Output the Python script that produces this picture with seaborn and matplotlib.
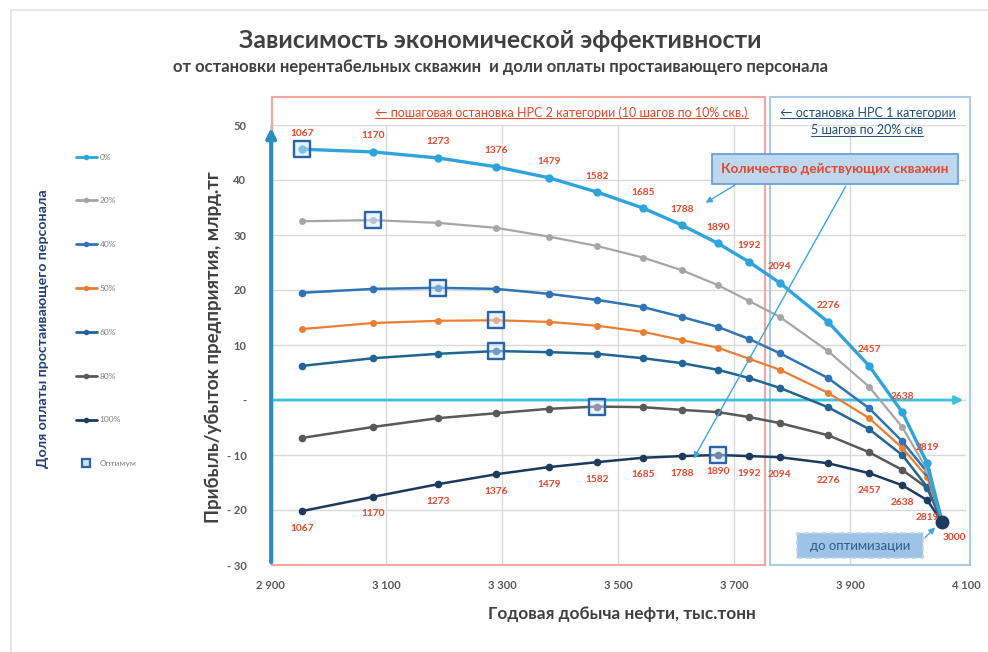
import matplotlib
matplotlib.use('Agg')
import matplotlib.pyplot as plt
import seaborn as sns
import numpy as np
import pandas as pd
from matplotlib.patches import Rectangle
from matplotlib.lines import Line2D

sns.set_theme(style='white')
plt.rcParams['font.family'] = ['Lato', 'DejaVu Sans']

# ---------------- data ----------------
production = [2955, 3078, 3190, 3290, 3381, 3464, 3543, 3610, 3672, 3726, 3779, 3862, 3933, 3990, 4033, 4059]
wells = [1067, 1170, 1273, 1376, 1479, 1582, 1685, 1788, 1890, 1992, 2094, 2276, 2457, 2638, 2819, 3000]

series_names = ['0%', '20%', '40%', '50%', '60%', '80%', '100%']
p0 = [45.6, 45.1, 44.0, 42.4, 40.4, 37.8, 34.9, 31.8, 28.5, 25.1, 21.3, 14.2, 6.2, -2.2, -11.5, -22.2]
p20 = [32.5, 32.7, 32.2, 31.3, 29.7, 28.0, 25.9, 23.6, 20.9, 18.0, 15.1, 8.9, 2.4, -4.9, -12.7, -22.2]
p40 = [19.5, 20.2, 20.4, 20.2, 19.3, 18.2, 16.9, 15.1, 13.3, 11.1, 8.5, 4.0, -1.5, -7.5, -13.1, -22.2]
p50 = [12.9, 14.0, 14.4, 14.5, 14.2, 13.5, 12.4, 10.9, 9.5, 7.5, 5.5, 1.3, -3.3, -8.7, -14.0, -22.2]
p60 = [6.2, 7.6, 8.4, 8.9, 8.7, 8.4, 7.6, 6.7, 5.5, 4.0, 2.2, -1.3, -5.3, -10.0, -15.8, -22.2]
p80 = [-6.9, -4.9, -3.3, -2.4, -1.6, -1.2, -1.3, -1.8, -2.2, -3.1, -4.2, -6.4, -9.5, -12.7, -16.0, -22.2]
p100 = [-20.2, -17.6, -15.3, -13.5, -12.2, -11.3, -10.5, -10.2, -10.0, -10.2, -10.4, -11.5, -13.3, -15.5, -18.2, -22.2]
series_values = [p0, p20, p40, p50, p60, p80, p100]
optimum_idx = [0, 1, 2, 3, 3, 5, 8]

x_ticks = [2900, 3100, 3300, 3500, 3700, 3900, 4100]
x_ticklabels = ['2 900', '3 100', '3 300', '3 500', '3 700', '3 900', '4 100']
y_ticks = [50, 40, 30, 20, 10, 0, -10, -20, -30]
y_ticklabels = ['50', '40', '30', '20', '10', '-', '- 10', '- 20', '- 30']

colors = ['#2ea4dc', '#a6a6a6', '#2f74b5', '#ed7d31', '#1f6595', '#595959', '#1c3a5e']
lwidths = [2.4, 1.6, 1.8, 1.6, 1.8, 1.8, 1.8]
msizes = [6, 5, 5.5, 5, 5.5, 5.5, 5.5]

W, H = 988, 652
fig = plt.figure(figsize=(W / 100, H / 100), dpi=100)
ax = fig.add_axes([270 / W, 87 / H, 696 / W, 440 / H])

rows = []
for name, vals in zip(series_names, series_values):
    for xv, yv in zip(production, vals):
        rows.append({'series': name, 'prod': xv, 'profit': yv})
df = pd.DataFrame(rows)

for i, name in enumerate(series_names):
    sub = df[df['series'] == name]
    sns.lineplot(data=sub, x='prod', y='profit', ax=ax, color=colors[i], lw=lwidths[i],
                 marker='o', markersize=msizes[i], markeredgecolor=colors[i],
                 markeredgewidth=0, legend=False, zorder=4 + (6 - i) * 0.1)

# end point marker
ax.plot([production[-1]], [p100[-1]], 'o', color='#1c3a5e', markersize=9, zorder=6)

# optimum squares
opt_x = [production[k] for k in optimum_idx]
opt_y = [series_values[i][k] for i, k in enumerate(optimum_idx)]
sns.scatterplot(x=opt_x, y=opt_y, ax=ax, marker='s', s=120,
                facecolor=(0.82, 0.9, 1.0, 0.45), edgecolor='#2b63a8', linewidth=1.7,
                zorder=7, legend=False)

# well count labels
lab_col = '#e8462a'
for k, w in enumerate(wells):
    if k < len(wells) - 1:
        ax.annotate(str(w), (production[k], p0[k]), xytext=(0, 16), textcoords='offset pixels',
                    ha='center', va='center', fontsize=7.3, fontweight='bold', color=lab_col, zorder=8)
        ax.annotate(str(w), (production[k], p100[k]), xytext=(0, -17), textcoords='offset pixels',
                    ha='center', va='center', fontsize=7.3, fontweight='bold', color=lab_col, zorder=8)
    else:
        ax.annotate(str(w), (production[k], p100[k]), xytext=(12, -15), textcoords='offset pixels',
                    ha='center', va='center', fontsize=7.3, fontweight='bold', color=lab_col, zorder=8)

# axes styling
ax.set_xlim(2900, 4100)
ax.set_ylim(-30, 50)
ax.set_xticks(x_ticks)
ax.set_xticklabels(x_ticklabels)
ax.set_yticks(y_ticks)
ax.set_yticklabels(y_ticklabels)
ax.tick_params(axis='both', length=0, labelsize=8, labelcolor='#595959')
ax.tick_params(axis='x', pad=11)
ax.tick_params(axis='y', pad=17)
for t in ax.get_xticklabels() + ax.get_yticklabels():
    t.set_fontweight('bold')
ax.grid(True, color='#d9d9d9', lw=1)
for s in ax.spines.values():
    s.set_visible(False)

ax.set_xlabel('Годовая добыча нефти, тыс.тонн', fontsize=12.4, fontweight='bold', color='#404040')
ax.xaxis.set_label_coords(0.506, -0.112)
ax.xaxis.label.set_va('center')
ax.set_ylabel('Прибыль/убыток предприятия, млрд.тг', fontsize=13.5, fontweight='bold', color='#404040')
ax.yaxis.set_label_coords(-0.082, 0.495)
ax.yaxis.label.set_va('center')

# axis arrows
ax.annotate('', xy=(2902, 50), xytext=(2902, -30),
            arrowprops=dict(arrowstyle='-|>', color='#2a8fbd', lw=3, mutation_scale=14),
            zorder=3, annotation_clip=False)
ax.annotate('', xy=(4100, 0), xytext=(2902, 0),
            arrowprops=dict(arrowstyle='-|>', color='#3ec0e0', lw=2, mutation_scale=12),
            zorder=3, annotation_clip=False)

# region boxes
ax.add_patch(Rectangle((2903, -30), 3753 - 2903, 55.1 + 30, fill=False, edgecolor='#f4a6a0',
                       lw=1.5, clip_on=False, zorder=2))
ax.add_patch(Rectangle((3762, -30), 4107 - 3762, 55.1 + 30, fill=False, edgecolor='#a9cbe8',
                       lw=1.5, clip_on=False, zorder=2))

underlined = []
t1 = ax.text(3403, 52.2, '← пошаговая остановка НРС 2 категории (10 шагов по 10% скв.)',
             ha='center', va='center', fontsize=9, color='#e8462a', zorder=9)
underlined.append((t1, '#e8462a'))
t2 = ax.text(3930, 52.2, '← остановка НРС 1 категории', ha='center', va='center',
             fontsize=9, color='#1f4e79', zorder=9)
t3 = ax.text(3930, 49.0, '5 шагов по 20% скв', ha='center', va='center',
             fontsize=9, color='#1f4e79', zorder=9)
underlined.append((t2, '#1f4e79'))
underlined.append((t3, '#1f4e79'))

# callout: well count
ax.add_patch(Rectangle((3662, 39.3), 4086 - 3662, 5.4, facecolor='#bdd7ee', edgecolor='#5b9bd5',
                       lw=1.2, zorder=9, clip_on=False))
ax.text(3874, 42.0, 'Количество действующих скважин', ha='center', va='center', fontsize=9.8,
        fontweight='bold', color='#e8462a', zorder=10)
ax.annotate('', xy=(3647, 35.6), xytext=(3705, 39.3),
            arrowprops=dict(arrowstyle='-|>', color='#41a6e0', lw=1, mutation_scale=9), zorder=9)
ax.annotate('', xy=(3628, -11.1), xytext=(3895, 39.3),
            arrowprops=dict(arrowstyle='-|>', color='#41a6e0', lw=1, mutation_scale=9), zorder=9)

# callout: before optimisation
ax.add_patch(Rectangle((3809, -28.7), 4026 - 3809, 4.5, facecolor='#9dc3e6', edgecolor='#bdd7ee',
                       lw=1.2, ls='--', zorder=9))
ax.text(3917, -26.5, 'до оптимизации', ha='center', va='center', fontsize=9.5,
        color='#2e5c8a', zorder=10)
ax.annotate('', xy=(4050, -22.8), xytext=(4026, -25.4),
            arrowprops=dict(arrowstyle='-|>', color='#41a6e0', lw=1, mutation_scale=9), zorder=9)

# titles
fig.text(500 / W, 1 - 40 / H, 'Зависимость экономической эффективности', ha='center', va='center',
         fontsize=17.8, fontweight='bold', color='#404040')
fig.text(500 / W, 1 - 67 / H, 'от остановки нерентабельных скважин  и доли оплаты простаивающего персонала',
         ha='center', va='center', fontsize=12, fontweight='bold', color='#404040')

# legend
handles = [Line2D([], [], color=c, lw=2, marker='o', markersize=4, markeredgewidth=0) for c in colors]
handles.append(Line2D([], [], ls='none', marker='s', markersize=6, markeredgecolor='#2b63a8',
                      markerfacecolor='#cfe2f3', markeredgewidth=1.6))
labels = series_names + ['Оптимум']
fig.legend(handles, labels, loc='upper left', bbox_to_anchor=(68 / W, 1 - 146 / H), frameon=False,
           fontsize=6, labelspacing=4.42, handlelength=2.6, handletextpad=0.3, labelcolor='#7f7f7f')
fig.text(43 / W, 1 - 329 / H, 'Доля оплаты простаивающего персонала', rotation=90, ha='center',
         va='center', fontsize=10.2, fontweight='bold', color='#1f3f7a')

# outer frame
fig.add_artist(Rectangle((11 / W, -0.05), 1.2, 1.05 - 10 / H, transform=fig.transFigure,
                         fill=False, edgecolor='#e3e3e3', lw=1.2))

# underlines
fig.canvas.draw()
r = fig.canvas.get_renderer()
for t, c in underlined:
    bb = t.get_window_extent(r)
    yy = (bb.y0 + 1) / H
    fig.add_artist(Line2D([bb.x0 / W, bb.x1 / W], [yy, yy], transform=fig.transFigure, color=c, lw=0.7))

fig.savefig('out.png', dpi=100)
